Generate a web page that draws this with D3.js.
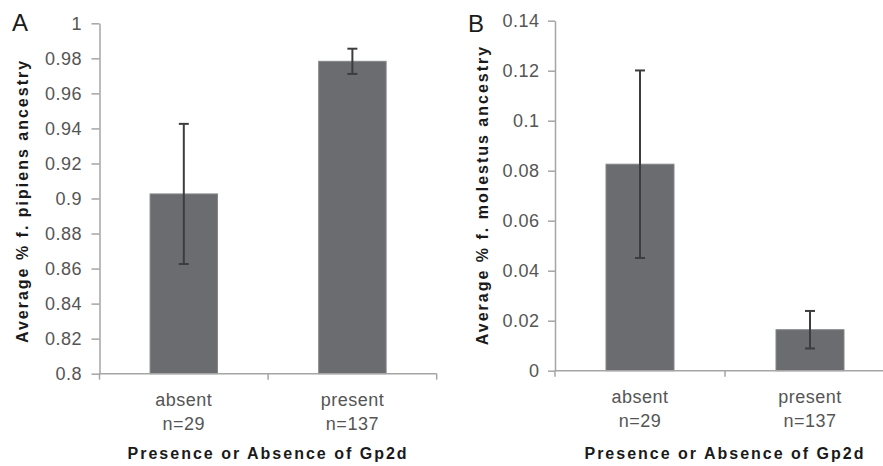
<!DOCTYPE html>
<html>
<head>
<meta charset="utf-8">
<script src="https://cdn.jsdelivr.net/npm/d3@7"></script>
<style>
  html, body { margin: 0; padding: 0; background: #fff; }
  svg { display: block; overflow: hidden; }
  text { font-family: "Liberation Sans", Arial, sans-serif; }
</style>
</head>
<body>
<svg id="chart" width="883" height="466"></svg>
<script>
// ---- data ----
const categories = ["absent", "present"];
const sampleSizes = ["n=29", "n=137"];
const pipiensMean = [0.9026, 0.9783];
const pipiensErr = [0.0400, 0.0072];
const molestusMean = [0.0826, 0.0164];
const molestusErr = [0.0375, 0.0075];
const pipiensTicks = [0.8, 0.82, 0.84, 0.86, 0.88, 0.9, 0.92, 0.94, 0.96, 0.98, 1];
const pipiensTickLabels = ["0.8", "0.82", "0.84", "0.86", "0.88", "0.9", "0.92", "0.94", "0.96", "0.98", "1"];
const molestusTicks = [0, 0.02, 0.04, 0.06, 0.08, 0.1, 0.12, 0.14];
const molestusTickLabels = ["0", "0.02", "0.04", "0.06", "0.08", "0.1", "0.12", "0.14"];

const svg = d3.select("#chart");

function panel(opts) {
  const g = svg.append("g");
  const x = d3.scaleBand().domain(categories).range(opts.xRange)
    .paddingInner(0.6).paddingOuter(0.3);
  const y = d3.scaleLinear().domain(opts.yDomain).range(opts.yRange);

  // bars
  g.selectAll("rect.bar").data(categories).join("rect")
    .attr("class", "bar")
    .attr("x", d => x(d))
    .attr("width", x.bandwidth())
    .attr("y", (d, i) => y(opts.mean[i]))
    .attr("height", (d, i) => y(opts.yDomain[0]) - y(opts.mean[i]))
    .attr("fill", "#6b6c70")
    .attr("stroke", "#85868a")
    .attr("stroke-width", 1);

  // error bars
  const eb = g.selectAll("g.err").data(categories).join("g").attr("class", "err");
  const cx = d => x(d) + x.bandwidth() / 2;
  eb.append("line")
    .attr("x1", cx).attr("x2", cx)
    .attr("y1", (d, i) => y(opts.mean[i] + opts.err[i]))
    .attr("y2", (d, i) => y(opts.mean[i] - opts.err[i]))
    .attr("stroke", "#3d3d3f").attr("stroke-width", 2);
  [1, -1].forEach(s => {
    eb.append("line")
      .attr("x1", d => cx(d) - 5).attr("x2", d => cx(d) + 5)
      .attr("y1", (d, i) => y(opts.mean[i] + s * opts.err[i]))
      .attr("y2", (d, i) => y(opts.mean[i] + s * opts.err[i]))
      .attr("stroke", "#3d3d3f").attr("stroke-width", 2);
  });

  // y axis
  const yAxis = d3.axisLeft(y)
    .tickValues(opts.ticks)
    .tickFormat((d, i) => opts.tickLabels[i])
    .tickSize(opts.tickSize)
    .tickSizeOuter(0)
    .tickPadding(opts.tickPad);
  const ya = g.append("g").attr("transform", `translate(${opts.xRange[0]},0)`).call(yAxis);
  ya.select(".domain").attr("stroke", "#a5a5a5").attr("stroke-width", 1.5);
  ya.selectAll(".tick line").attr("stroke", "#a5a5a5").attr("stroke-width", 1.5);
  ya.selectAll(".tick text")
    .attr("fill", "#555")
    .style("font-size", "18px")
    .style("letter-spacing", "0.5px")
    .style("font-family", "'Liberation Sans', Arial, sans-serif");

  // x axis line and boundary ticks
  const y0 = y(opts.yDomain[0]);
  g.append("line")
    .attr("x1", opts.xRange[0]).attr("x2", opts.xRange[1])
    .attr("y1", y0).attr("y2", y0)
    .attr("stroke", "#a5a5a5").attr("stroke-width", 1.5);
  const bounds = d3.range(categories.length + 1).map(i => opts.xRange[0] + i * x.step());
  g.selectAll("line.xt").data(bounds).join("line")
    .attr("class", "xt")
    .attr("x1", d => d).attr("x2", d => d)
    .attr("y1", y0).attr("y2", y0 + 6)
    .attr("stroke", "#a5a5a5").attr("stroke-width", 1.5);

  // category labels
  g.selectAll("text.cat").data(categories).join("text")
    .attr("class", "cat")
    .attr("x", cx).attr("y", y0 + opts.catDy)
    .attr("text-anchor", "middle")
    .attr("fill", "#555")
    .style("font-size", "18px")
    .style("letter-spacing", "0.5px")
    .text(d => d);
  g.selectAll("text.n").data(sampleSizes).join("text")
    .attr("class", "n")
    .attr("x", (d, i) => cx(categories[i])).attr("y", y0 + opts.catDy + 24)
    .attr("text-anchor", "middle")
    .attr("fill", "#555")
    .style("font-size", "18px")
    .style("letter-spacing", "0.5px")
    .text(d => d);

  // x title
  g.append("text")
    .attr("x", (opts.xRange[0] + opts.xRange[0] + 2 * x.step()) / 2)
    .attr("y", 459)
    .attr("text-anchor", "middle")
    .attr("fill", "#1a1a1a")
    .style("font-size", "16px")
    .style("font-weight", "bold")
    .style("letter-spacing", "2px")
    .text("Presence or Absence of Gp2d");

  // y title
  g.append("text")
    .attr("transform", `translate(${opts.yTitle[0]},${opts.yTitle[1]}) rotate(-90)`)
    .attr("text-anchor", "middle")
    .attr("fill", "#1a1a1a")
    .style("font-size", "16px")
    .style("font-weight", "bold")
    .style("letter-spacing", "2px")
    .text(opts.yLabel);

  // panel letter
  g.append("text")
    .attr("x", opts.letterPos[0]).attr("y", opts.letterPos[1])
    .attr("fill", "#1a1a1a")
    .style("font-size", "24px")
    .text(opts.letter);
}

panel({
  xRange: [99.5, 436.7], yDomain: [0.8, 1], yRange: [373.7, 23.3],
  mean: pipiensMean, err: pipiensErr,
  ticks: pipiensTicks, tickLabels: pipiensTickLabels,
  tickSize: 8, tickPad: 9.5, catDy: 32,
  yTitle: [28, 201], yLabel: "Average % f. pipiens ancestry",
  letter: "A", letterPos: [12, 31]
});

panel({
  xRange: [555, 895], yDomain: [0, 0.14], yRange: [370.7, 20.7],
  mean: molestusMean, err: molestusErr,
  ticks: molestusTicks, tickLabels: molestusTickLabels,
  tickSize: 7, tickPad: 8.5, catDy: 32,
  yTitle: [488, 195], yLabel: "Average % f. molestus ancestry",
  letter: "B", letterPos: [468, 32]
});
</script>
</body>
</html>
